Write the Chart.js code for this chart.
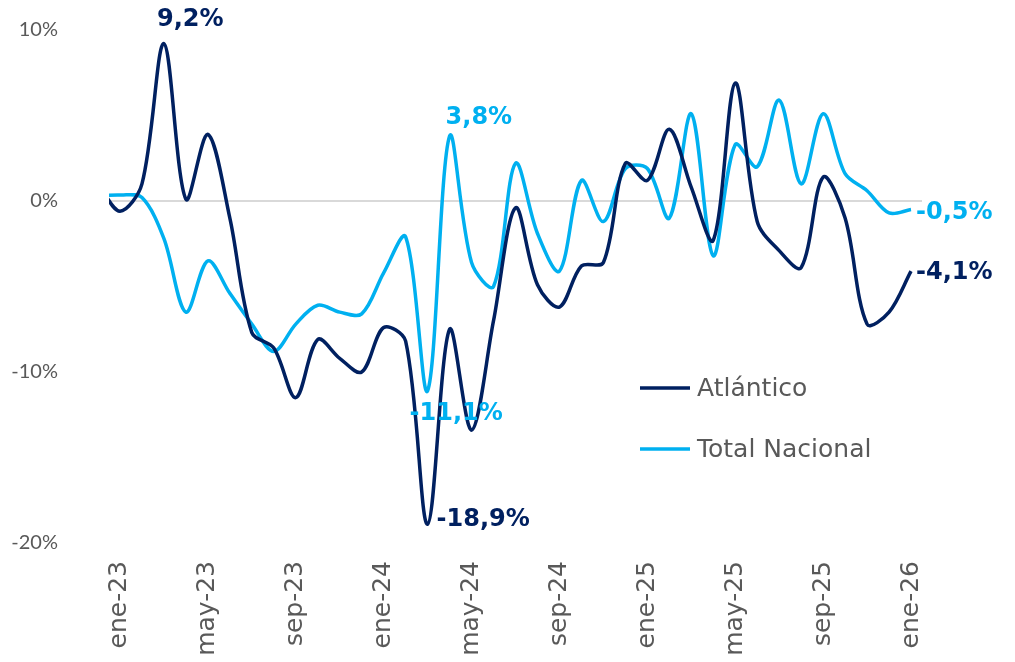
<!DOCTYPE html>
<html>
<head>
<meta charset="utf-8">
<script src="https://cdn.jsdelivr.net/npm/chart.js@4.4.1/dist/chart.umd.min.js"></script>
<style>
    html, body { margin: 0; padding: 0; background: #fff; }
    canvas { display: block; }
</style>
</head>
<body>
<canvas id="variacionChart" width="1015" height="662"></canvas>
<script>
// meses (dic-22 queda fuera del área visible, solo sirve para el arranque de la curva)
const months = [
    'dic-22',
    'ene-23', 'feb-23', 'mar-23', 'abr-23', 'may-23', 'jun-23', 'jul-23', 'ago-23', 'sep-23', 'oct-23', 'nov-23', 'dic-23',
    'ene-24', 'feb-24', 'mar-24', 'abr-24', 'may-24', 'jun-24', 'jul-24', 'ago-24', 'sep-24', 'oct-24', 'nov-24', 'dic-24',
    'ene-25', 'feb-25', 'mar-25', 'abr-25', 'may-25', 'jun-25', 'jul-25', 'ago-25', 'sep-25', 'oct-25', 'nov-25', 'dic-25',
    'ene-26'
];

const atlantico = [
    1.0,
    -0.6, 1.0, 9.2, 0.1, 3.9, -1.0, -7.7, -8.6, -11.5, -8.1, -9.2, -10.0,
    -7.4, -8.2, -18.9, -7.5, -13.4, -7.0, -0.4, -4.9, -6.2, -3.8, -3.6, 2.2,
    1.2, 4.2, 0.8, -2.3, 6.9, -1.2, -2.9, -3.9, 1.4, -1.0, -7.2, -6.5,
    -4.1
];

const totalNacional = [
    0.3,
    0.35, 0.2, -2.2, -6.5, -3.5, -5.4, -7.2, -8.8, -7.2, -6.1, -6.5, -6.6,
    -4.2, -2.1, -11.1, 3.8, -3.6, -5.0, 2.2, -1.9, -4.1, 1.2, -1.2, 1.9,
    1.9, -1.0, 5.1, -3.2, 3.3, 2.0, 5.9, 1.0, 5.1, 1.6, 0.6, -0.7,
    -0.5
];

const yTicks = [10, 0, -10, -20];
const xTickMonths = ['ene-23', 'may-23', 'sep-23', 'ene-24', 'may-24', 'sep-24', 'ene-25', 'may-25', 'sep-25', 'ene-26'];

const seriesNames = ['Atlántico', 'Total Nacional'];
const seriesColors = ['#002060', '#00B0F0'];

// etiquetas de valor destacadas
const callouts = [
    { series: 0, month: 'mar-23', dx: -7, dy: -24 },
    { series: 1, month: 'abr-24', dx: -4, dy: -18 },
    { series: 1, month: 'mar-24', dx: -18, dy: 23 },
    { series: 0, month: 'mar-24', dx: 9, dy: -4 },
    { series: 1, month: 'ene-26', dx: 5, dy: 3 },
    { series: 0, month: 'ene-26', dx: 5, dy: 2 }
];

const TICK_FONT = "Lato, sans-serif";
const TEXT_FONT = "'DejaVu Sans', sans-serif";
const GREY = '#595959';

const fmtPct = v => v.toFixed(1).replace('.', ',') + '%';

const toPoints = values => values.map((v, i) => ({ x: i, y: v }));

const calloutPlugin = {
    id: 'calloutPlugin',
    afterDatasetsDraw(chart) {
        const ctx = chart.ctx;
        ctx.save();
        ctx.font = 'bold 24px ' + TEXT_FONT;
        ctx.textAlign = 'left';
        ctx.textBaseline = 'middle';
        callouts.forEach(c => {
            const idx = months.indexOf(c.month);
            const meta = chart.getDatasetMeta(c.series);
            const pt = meta.data[idx];
            const value = chart.data.datasets[c.series].data[idx].y;
            ctx.fillStyle = seriesColors[c.series];
            ctx.fillText(fmtPct(value), pt.x + c.dx, pt.y + c.dy);
        });
        ctx.restore();
    },
    afterDraw(chart) {
        // leyenda dentro del área del gráfico
        const ctx = chart.ctx;
        ctx.save();
        ctx.font = '25px ' + TEXT_FONT;
        ctx.textBaseline = 'middle';
        ctx.textAlign = 'left';
        chart.data.datasets.forEach((ds, i) => {
            const y = 388 + i * 61;
            ctx.strokeStyle = ds.borderColor;
            ctx.lineWidth = 3.5;
            ctx.beginPath();
            ctx.moveTo(640, y);
            ctx.lineTo(690, y);
            ctx.stroke();
            ctx.fillStyle = GREY;
            ctx.fillText(ds.label, 697, y + 1);
        });
        ctx.restore();
    }
};

const chartCtx = document.getElementById('variacionChart').getContext('2d');
new Chart(chartCtx, {
    type: 'line',
    data: {
        datasets: [
            {
                label: seriesNames[0],
                data: toPoints(atlantico),
                borderColor: seriesColors[0],
                borderWidth: 3.5,
                pointRadius: 0,
                tension: 0.33,
                fill: false
            },
            {
                label: seriesNames[1],
                data: toPoints(totalNacional),
                borderColor: seriesColors[1],
                borderWidth: 3.5,
                pointRadius: 0,
                tension: 0.33,
                fill: false
            }
        ]
    },
    options: {
        responsive: false,
        animation: false,
        layout: {
            padding: { top: 30, right: 93, left: 0, bottom: 0 }
        },
        scales: {
            x: {
                type: 'linear',
                min: 0.5,
                max: months.length - 0.5,
                afterBuildTicks: axis => {
                    axis.ticks = xTickMonths.map(m => ({ value: months.indexOf(m) }));
                },
                afterFit: axis => { axis.height = 119; },
                grid: { display: false, drawTicks: false },
                border: { display: false },
                ticks: {
                    autoSkip: false,
                    minRotation: 90,
                    maxRotation: 90,
                    padding: 18,
                    color: GREY,
                    font: { family: TEXT_FONT, size: 25 },
                    callback: v => months[v]
                }
            },
            y: {
                min: -20,
                max: 10,
                afterBuildTicks: axis => {
                    axis.ticks = yTicks.map(v => ({ value: v }));
                },
                afterFit: axis => {
                    axis.width = 109;
                    // el padding de las etiquetas no debe empujar el área del gráfico
                    axis.paddingTop = 0;
                    axis.paddingBottom = 0;
                },
                grid: {
                    drawTicks: false,
                    lineWidth: 2,
                    color: c => (c.tick && c.tick.value === 0 ? '#D9D9D9' : 'rgba(0,0,0,0)')
                },
                border: { display: false },
                ticks: {
                    padding: 51,
                    color: GREY,
                    font: { family: TICK_FONT, size: 20 },
                    callback: v => v + '%'
                }
            }
        },
        plugins: {
            legend: { display: false },
            tooltip: { enabled: false }
        }
    },
    plugins: [calloutPlugin]
});
</script>
</body>
</html>
